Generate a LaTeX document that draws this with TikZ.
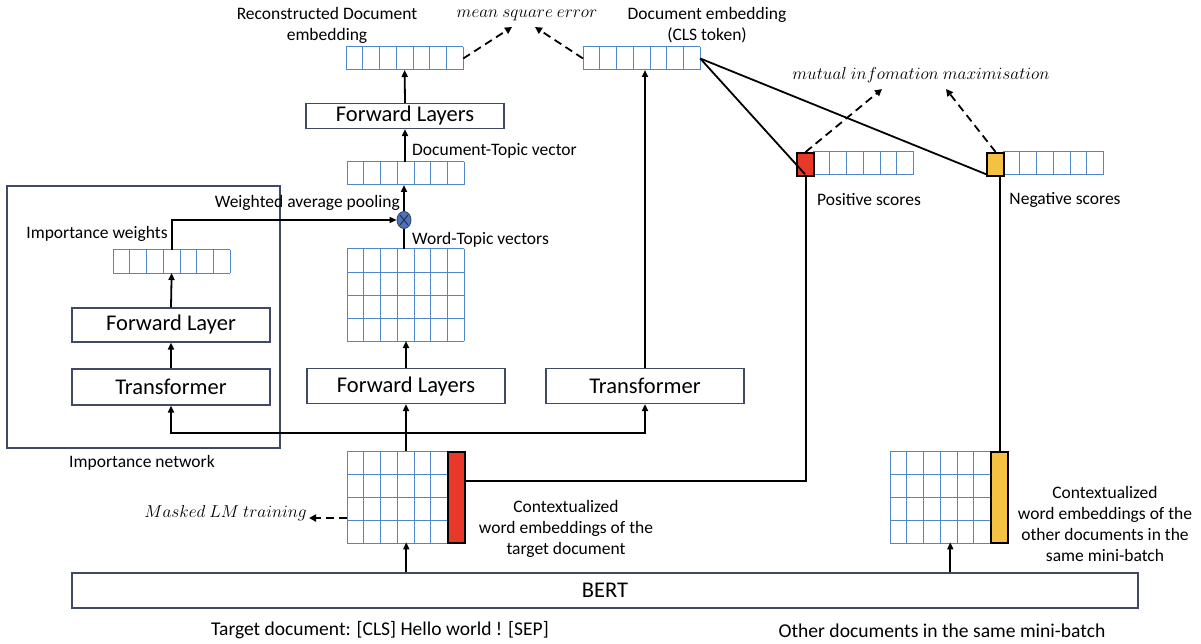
\documentclass[tikz,border=0pt]{standalone}
\usepackage[no-math]{fontspec}
\setmainfont{Carlito}
\usetikzlibrary{arrows.meta,shapes.geometric}
\definecolor{cellblue}{HTML}{4F86CC}
\definecolor{boxline}{HTML}{3E4A66}
\definecolor{redfill}{HTML}{E8382A}
\definecolor{yelfill}{HTML}{F4C142}
\definecolor{circfill}{HTML}{4A72C0}
\tikzset{
  cell/.style={draw=cellblue, line width=1pt},
  blockbox/.style={draw=boxline, line width=1.2pt, inner sep=0, font=\fontsize{22.5}{26}\selectfont},
  lbl/.style={font=\fontsize{17.5}{21}\selectfont, inner sep=0, align=center},
  mth/.style={font=\fontsize{18}{21}\selectfont, inner sep=0},
  arr/.style={line width=1.8pt, -{Triangle[length=7pt,width=6pt]}},
  conn/.style={line width=1.8pt},
  darr/.style={line width=1.8pt, dash pattern=on 8pt off 5pt, -{Triangle[length=7pt,width=7pt]}},
}
% name, left x, top y, cols, rows
\newcommand\vgrid[5]{%
  \pgfmathsetmacro\gw{#4*16.75}\pgfmathsetmacro\gh{#5*23}%
  \node[inner sep=0,outer sep=0,minimum width=\gw pt,minimum height=\gh pt,anchor=north west] (#1) at (#2,#3) {};
  \foreach \i in {0,...,#4} \draw[cell] (#2+\i*16.75,#3) -- ++(0,\gh);
  \foreach \j in {0,...,#5} \draw[cell] (#2,#3+\j*23) -- ++(\gw,0);
}
\begin{document}
\begin{tikzpicture}[x=1pt,y=-1pt]
\useasboundingbox[fill=white] (0,0) rectangle (1201,644);

% importance network frame
\draw[boxline, line width=1.2pt] (7,186) rectangle (280,448);
\node[lbl] (impnet) at (142,463) {Importance network};

% vectors and matrices
\vgrid{recon}{346}{47}{7}{1}
\vgrid{docemb}{583}{47}{7}{1}
\vgrid{doctopic}{347}{162}{7}{1}
\vgrid{impw}{113}{250}{7}{1}
\vgrid{wordtopic}{347}{249}{7}{4}
\vgrid{tgtmat}{347}{451}{6}{4}
\vgrid{othmat}{890}{451}{6}{4}
\vgrid{posvec}{813}{152}{6}{1}
\vgrid{negvec}{1003}{152}{6}{1}

\node[draw=black, line width=2.2pt, fill=redfill, inner sep=0, minimum width=17pt, minimum height=91pt, anchor=north west] (tgtcls) at (447,451) {};
\node[draw=black, line width=2.2pt, fill=yelfill, inner sep=0, minimum width=17pt, minimum height=91pt, anchor=north west] (othcls) at (990,451) {};
\node[draw=black, line width=2.2pt, fill=redfill, inner sep=0, minimum width=17pt, minimum height=23pt, anchor=north west] (posbox) at (796,152) {};
\node[draw=black, line width=2.2pt, fill=yelfill, inner sep=0, minimum width=17pt, minimum height=23pt, anchor=north west] (negbox) at (986,152) {};

% boxes
\node[blockbox, minimum width=198pt, minimum height=25pt] (fl2) at (405,116) {Forward Layers};
\node[blockbox, minimum width=198pt, minimum height=35pt] (fl1) at (406,386) {Forward Layers};
\node[blockbox, minimum width=198pt, minimum height=35pt] (tr2) at (645,386) {Transformer};
\node[blockbox, minimum width=198pt, minimum height=34pt] (impfl) at (171,325) {Forward Layer};
\node[blockbox, minimum width=198pt, minimum height=36pt] (imptr) at (171,387) {Transformer};
\node[blockbox, minimum width=1066pt, minimum height=35pt] (bert) at (605,590.5) {BERT};

% circle
\node[ellipse, draw=boxline, fill=circfill, line width=0.9pt, minimum width=14pt, minimum height=17pt, inner sep=0] (pool) at (404,220) {};
\draw[line width=0.8pt, black!85] ([shift={(-4,-5)}]pool.center) -- ([shift={(4,5)}]pool.center)
      ([shift={(-4,5)}]pool.center) -- ([shift={(4,-5)}]pool.center);

% labels
\node[lbl] (lrecon) at (327,25) {Reconstructed Document\\embedding};
\node[lbl] (ldocemb) at (707,25) {Document embedding\\(CLS token)};
\node[mth] (lmse) at (527,15) {$mean\ square\ error$};
\node[mth] (lmi) at (921,75) {$mutual\ infomation\ maximisation$};
\node[lbl, anchor=west] (ldt) at (412,151) {Document-Topic vector};
\node[lbl, anchor=east] (lwap) at (400,203) {Weighted average pooling};
\node[lbl, anchor=west] (lwt) at (412,240) {Word-Topic vectors};
\node[lbl] (liw) at (97,234) {Importance weights};
\node[lbl] (lpos) at (869,200) {Positive scores};
\node[lbl] (lneg) at (1065,200) {Negative scores};
\node[mth, anchor=east] (lmlm) at (307,513) {$Masked\ LM\ training$};
\node[lbl] (ltgt) at (566,529) {Contextualized\\word embeddings of the\\target document};
\node[lbl] (loth) at (1105,524) {Contextualized\\word embeddings of the\\other documents in the\\same mini-batch};
\node[lbl, font=\fontsize{19.5}{22}\selectfont] (ltdoc) at (380,630) {Target document: [CLS] Hello world ! [SEP]};
\node[lbl, font=\fontsize{19.6}{22}\selectfont] (lodoc) at (942,631) {Other documents in the same mini-batch};

% coordinates for dashed targets
\coordinate (mseL) at (512,27);
\coordinate (mseR) at (535,27);
\coordinate (miL) at (882,89);
\coordinate (miR) at (946,89);
\coordinate (mlmend) at (309,518);

% connectors
\draw[arr] (fl2.north) -- (recon.south);
\draw[arr] (doctopic.north -| fl2.south) -- (fl2.south);
\draw[arr] (pool.north) -- (doctopic.south -| pool.north);
\draw[conn] (wordtopic.north -| pool.south) -- (pool.south);
\draw[arr] (impw.north) |- (pool.west);
\draw[arr] (fl1.north) -- (wordtopic.south -| fl1.north);
\draw[arr] (tgtmat.north -| fl1.south) -- (fl1.south);
\draw[arr] (tgtmat.north -| fl1.south) ++(0,-18) -| (imptr.south);
\draw[arr] (tgtmat.north -| fl1.south) ++(0,-18) -| (tr2.south);
\draw[arr] (imptr.north) -- (impfl.south);
\draw[arr] (impfl.north) -- (impw.south);
\draw[arr] (tr2.north) -- (docemb.south -| tr2.north);
\draw[arr] (bert.north -| tgtmat.south) ++(9,0) -- ++(0,-30);
\draw[arr] (bert.north -| othmat.south) ++(10,0) -- ++(0,-30);
\draw[conn] (tgtcls.east |- 0,481) -| (posbox.south);
\draw[conn] (othcls.north) -- (othcls.north |- negbox.south);
\draw[conn] (docemb.east) -- ([shift={(9,-3)}]posbox.south west);
\draw[conn] (docemb.east) -- ([shift={(0,-3)}]negbox.south west);
\draw[darr] (recon.east) -- (mseL);
\draw[darr] (docemb.west) -- (mseR);
\draw[darr] (posbox.north) -- (miL);
\draw[darr] (negbox.north) -- (miR);
\draw[darr] (tgtmat.west |- 0,518) -- (mlmend);
\end{tikzpicture}
\end{document}
